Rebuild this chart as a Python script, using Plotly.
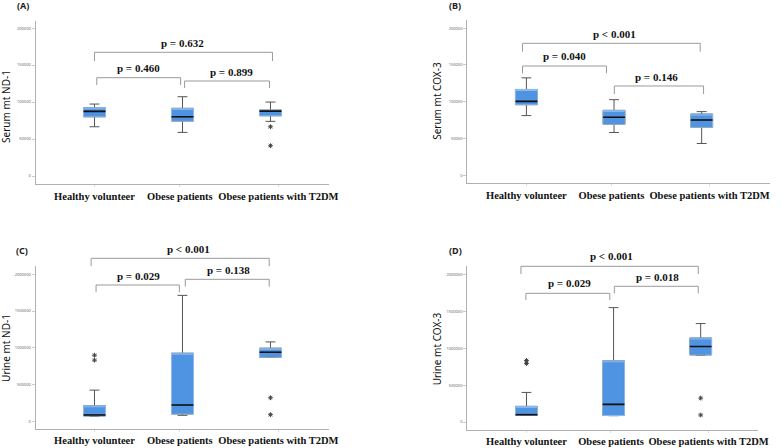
import plotly.graph_objects as go

W, H = 781, 448

categories = ["Healthy volunteer", "Obese patients", "Obese patients with T2DM"]

# Panel A: Serum mt ND-1
a_lower = [66600, 59000, 73900]
a_q1 = [80100, 74300, 81500]
a_median = [87400, 80100, 87800]
a_q3 = [92300, 91500, 89200]
a_upper = [97300, 107200, 100000]
a_out_x = [2, 2]
a_out_y = [66600, 41000]

# Panel B: Serum mt COX-3
b_lower = [81100, 58100, 43200]
b_q1 = [95900, 69300, 65300]
b_median = [100400, 78800, 75100]
b_q3 = [116600, 88200, 83200]
b_upper = [132400, 102700, 86500]
b_out_x = []
b_out_y = []

# Panel C: Urine mt ND-1
c_lower = [73000, 86000, 874000]
c_q1 = [78000, 104000, 874000]
c_median = [90000, 226000, 942000]
c_q3 = [216000, 928000, 996000]
c_upper = [428000, 1712000, 1081000]
c_out_x = [0, 0, 2, 2]
c_out_y = [901000, 834000, 324000, 95000]

# Panel D: Urine mt COX-3
d_lower = [90000, 86000, 905000]
d_q1 = [92000, 88000, 909000]
d_median = [99000, 239000, 1023000]
d_q3 = [212000, 829000, 1139000]
d_upper = [401000, 1550000, 1334000]
d_out_x = [0, 0, 2, 2]
d_out_y = [834000, 793000, 324000, 95000]

serum_ticks = [0, 50000, 100000, 150000, 200000]
urine_ticks = [0, 500000, 1000000, 1500000, 2000000]

p_A = ["p = 0.632", "p = 0.460", "p = 0.899"]
p_B = ["p < 0.001", "p = 0.040", "p = 0.146"]
p_C = ["p < 0.001", "p = 0.029", "p = 0.138"]
p_D = ["p < 0.001", "p = 0.029", "p = 0.018"]

BOX_FILL = "#4F93E3"
BOX_EDGE = "#8FBDF0"
WHISK = "#555555"

# label positions along the category axis (layout only)
label_pos = [0, 0.97, 2.09]

panels = [
    dict(name="A", ytitle="Serum mt ND-1", lower=a_lower, q1=a_q1, med=a_median, q3=a_q3, upper=a_upper,
         ox=a_out_x, oy=a_out_y, ticks=serum_ticks, pv=p_A,
         xpx=(36, 333), ypx=(20.7, 184), xr=(-0.670, 2.662), yr=(-10800, 210000),
         label=(23, 5), ytpos=(6, 106),
         brackets=[(95.7, 276, 52.3, 61, 185, 43), (98, 183, 77.7, 85, 140, 68), (187, 273, 81, 88, 235, 72)]),
    dict(name="B", ytitle="Serum mt COX-3", lower=b_lower, q1=b_q1, med=b_median, q3=b_q3, upper=b_upper,
         ox=b_out_x, oy=b_out_y, ticks=serum_ticks, pv=p_B,
         xpx=(473.3, 780), ypx=(20, 183.3), xr=(-0.675, 2.78), yr=(-10900, 211000),
         label=(461, 5), ytpos=(442.5, 101),
         brackets=[(529.3, 709.3, 43.3, 51.7, 622, 34.3), (529.3, 614.3, 66, 73.3, 572.3, 56), (622.3, 712.7, 86, 94, 665.3, 77.3)]),
    dict(name="C", ytitle="Urine mt ND-1", lower=c_lower, q1=c_q1, med=c_median, q3=c_q3, upper=c_upper,
         ox=c_out_x, oy=c_out_y, ticks=urine_ticks, pv=p_C,
         xpx=(36, 333), ypx=(265.7, 428.7), xr=(-0.670, 2.662), yr=(-95000, 2114000),
         label=(22.5, 251), ytpos=(6, 348),
         brackets=[(92.3, 272.7, 258.3, 266.3, 191, 249), (97.3, 181.7, 285, 292.3, 140, 275.7), (187.7, 272.7, 279.3, 286.7, 231.7, 269.7)]),
    dict(name="D", ytitle="Urine mt COX-3", lower=d_lower, q1=d_q1, med=d_median, q3=d_q3, upper=d_upper,
         ox=d_out_x, oy=d_out_y, ticks=urine_ticks, pv=p_D,
         xpx=(473.3, 768), ypx=(265.7, 429.7), xr=(-0.68, 2.66), yr=(-104000, 2118000),
         label=(461, 250), ytpos=(443, 349),
         brackets=[(527.7, 707.3, 266.3, 274, 619.3, 256.3), (532.7, 617.7, 293.3, 300, 576.7, 283), (622.3, 707.3, 286.3, 293.3, 666, 277.3)]),
]

fig = go.Figure()
shapes = []
annotations = []

def px_x(v):
    return v / W

def px_y(v):
    return 1 - v / H

for k, p in enumerate(panels):
    idx = "" if k == 0 else str(k + 1)
    xa, ya = "x" + idx, "y" + idx
    pos = list(range(len(categories)))
    fig.add_trace(go.Box(
        x=pos, q1=p["q1"], median=p["med"], q3=p["q3"],
        lowerfence=p["lower"], upperfence=p["upper"],
        width=0.25, whiskerwidth=0.45, boxpoints=False,
        fillcolor=BOX_FILL, line=dict(color=WHISK, width=1),
        xaxis=xa, yaxis=ya, showlegend=False, hoverinfo="skip"))
    fig.add_trace(go.Box(
        x=pos, q1=p["q1"], median=p["q3"], q3=p["q3"],
        lowerfence=p["q1"], upperfence=p["q3"],
        width=0.25, whiskerwidth=0.0, boxpoints=False,
        fillcolor="rgba(0,0,0,0)", line=dict(color=BOX_EDGE, width=1),
        xaxis=xa, yaxis=ya, showlegend=False, hoverinfo="skip"))
    mx, my = [], []
    for i, m in enumerate(p["med"]):
        mx += [i - 0.125, i + 0.125, None]
        my += [m, m, None]
    fig.add_trace(go.Scatter(x=mx, y=my, mode="lines", line=dict(color="#111111", width=1.6),
                             xaxis=xa, yaxis=ya, showlegend=False, hoverinfo="skip"))
    if p["ox"]:
        fig.add_trace(go.Scatter(x=p["ox"], y=p["oy"], mode="markers",
                                 marker=dict(symbol="asterisk-open", size=4, color="#444444",
                                             line=dict(color="#444444", width=1)),
                                 xaxis=xa, yaxis=ya, showlegend=False, hoverinfo="skip"))

    xdom = [px_x(p["xpx"][0]), px_x(p["xpx"][1])]
    ydom = [px_y(p["ypx"][1]), px_y(p["ypx"][0])]
    fig.update_layout(**{
        ("xaxis" + idx): dict(domain=xdom, range=list(p["xr"]), anchor=ya,
                              tickvals=label_pos, ticktext=["<b>" + c + "</b>" for c in categories],
                              tickangle=0,
                              tickfont=dict(family="Liberation Serif", size=10.5, color="#111111"),
                              showline=True, linecolor="#b0b0b0", linewidth=1,
                              ticks="outside", ticklen=2, tickcolor="#dddddd",
                              showgrid=False, zeroline=False, fixedrange=True),
        ("yaxis" + idx): dict(domain=ydom, range=list(p["yr"]), anchor=xa,
                              tickvals=p["ticks"], ticktext=[str(t) for t in p["ticks"]],
                              tickfont=dict(family="Noto Sans", size=4, color="#666666"),
                              showline=True, linecolor="#b0b0b0", linewidth=1,
                              ticks="outside", ticklen=3, tickcolor="#cccccc",
                              showgrid=False, zeroline=False, fixedrange=True),
    })

    annotations.append(dict(text="<b>(" + p["name"] + ")</b>", x=px_x(p["label"][0]), y=px_y(p["label"][1]),
                            xref="paper", yref="paper", showarrow=False, xanchor="center", yanchor="middle",
                            font=dict(family="Noto Sans", size=9, color="#222222")))
    annotations.append(dict(text=p["ytitle"], x=px_x(p["ytpos"][0]), y=px_y(p["ytpos"][1]),
                            xref="paper", yref="paper", showarrow=False, textangle=-90,
                            xanchor="center", yanchor="middle",
                            font=dict(family="Noto Sans", size=10, color="#111111")))
    for (x0, x1, yt, yl, tx, ty), txt in zip(p["brackets"], p["pv"]):
        path = "M {:.5f},{:.5f} L {:.5f},{:.5f} L {:.5f},{:.5f} L {:.5f},{:.5f}".format(
            px_x(x0), px_y(yl), px_x(x0), px_y(yt), px_x(x1), px_y(yt), px_x(x1), px_y(yl))
        shapes.append(dict(type="path", path=path, xref="paper", yref="paper",
                           line=dict(color="#9a9a9a", width=1)))
        annotations.append(dict(text="<b>" + txt + "</b>", x=px_x(tx), y=px_y(ty),
                                xref="paper", yref="paper", showarrow=False,
                                xanchor="center", yanchor="middle",
                                font=dict(family="Liberation Serif", size=11, color="#111111")))

fig.update_layout(
    width=W, height=H, margin=dict(l=0, r=0, t=0, b=0),
    paper_bgcolor="white", plot_bgcolor="white",
    boxmode="overlay", shapes=shapes, annotations=annotations,
)

fig.write_html("out.html", config={"displayModeBar": False},
               post_script="document.body.style.margin='0';")
